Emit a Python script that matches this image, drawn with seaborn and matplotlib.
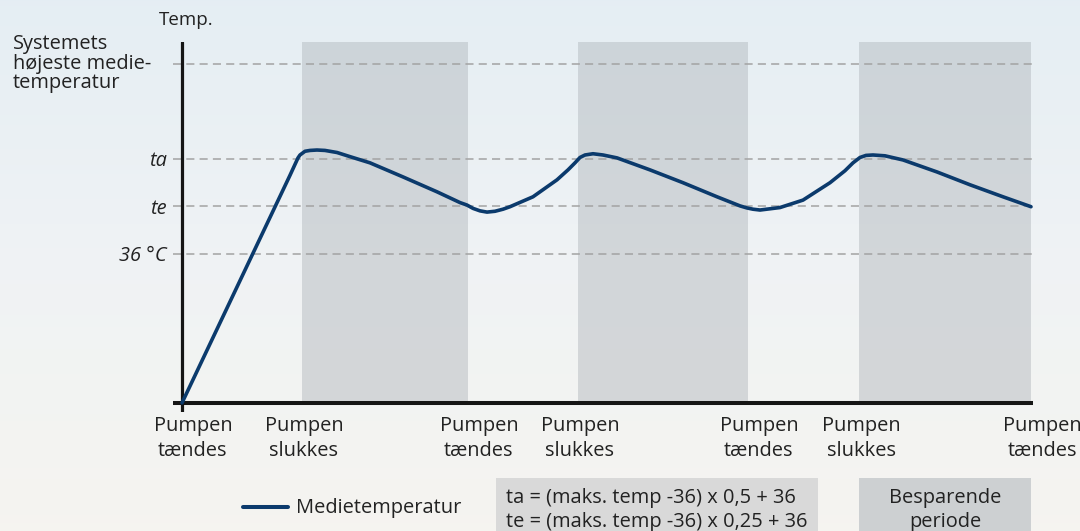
import numpy as np
import matplotlib
matplotlib.use("Agg")
import matplotlib.pyplot as plt
import matplotlib.transforms as mtransforms
from matplotlib.lines import Line2D
from matplotlib.patches import Rectangle
import seaborn as sns

# ---------------- data ----------------
max_temp = 82.0
ta = (max_temp - 36) * 0.5 + 36
te = (max_temp - 36) * 0.25 + 36
base_temp = 36.0

# pump events (time units)
event_times = [0, 12.0, 28.6, 39.6, 56.6, 67.7, 84.9]
event_labels = ["Pumpen\ntændes", "Pumpen\nslukkes", "Pumpen\ntændes", "Pumpen\nslukkes",
                "Pumpen\ntændes", "Pumpen\nslukkes", "Pumpen\ntændes"]
# saving periods (pump off)
saving_start = [12.0, 39.6, 67.7]
saving_end = [28.6, 56.6, 84.9]

# medium temperature curve
curve_time = [0, 10.8, 11.6, 11.8, 12.3, 12.8, 13.5, 14.3, 15.5, 16.8, 18.8, 22.1, 25.5,
              27.8, 28.5, 29.1, 29.8, 30.5, 31.3, 32.1, 32.8, 35.1, 37.5, 38.6, 39.3,
              39.8, 40.3, 41.1, 42.1, 43.5, 46.8, 50.1, 53.5, 55.8, 56.5, 57.1, 57.8,
              58.8, 59.8, 62.1, 64.8, 66.3, 67.1, 67.8, 68.4, 69.1, 70.3, 72.1, 75.5,
              78.8, 82.1, 84.9]
curve_temp = [0, 55.0, 59.2, 59.9, 60.8, 61.0, 61.1, 61.0, 60.5, 59.5, 58.0, 54.6, 51.0,
              48.4, 47.8, 47.0, 46.4, 46.1, 46.3, 46.8, 47.4, 49.8, 53.9, 56.3, 58.0,
              59.3, 59.9, 60.2, 59.9, 59.2, 56.3, 53.2, 49.8, 47.6, 47.1, 46.8, 46.6,
              46.9, 47.2, 49.0, 53.2, 56.1, 58.0, 59.3, 59.8, 59.9, 59.7, 58.7, 55.8,
              52.7, 49.8, 47.4]

ytick_values = [base_temp, te, ta]
ytick_labels = ["36 °C", "te", "ta"]
max_label = "Systemets\nhøjeste medie-\ntemperatur"
legend_line_label = "Medietemperatur"
formula_text = "ta = (maks. temp -36) x 0,5 + 36\nte = (maks. temp -36) x 0,25 + 36"
saving_label = "Besparende\nperiode"

# ---------------- style ----------------
sns.set_theme(style="white")
plt.rcParams["font.family"] = ["Open Sans", "DejaVu Sans"]
TXT = "#222222"
NAVY = "#0b3a6c"
FS = 14.4

W, H = 1080, 531
fig = plt.figure(figsize=(W / 100, H / 100), dpi=100)

# background gradient (sky fading to pale)
bg = fig.add_axes([0, 0, 1, 1], zorder=-10)
yy = np.linspace(0, 1, 256)[:, None]
top = np.array([0.898, 0.933, 0.955])
mid = np.array([0.940, 0.952, 0.958])
bot = np.array([0.962, 0.957, 0.942])
grad = np.where(yy < 0.5, top + (mid - top) * (yy / 0.5), mid + (bot - mid) * ((yy - 0.5) / 0.5))
img = np.repeat(grad[:, None, :], 4, axis=1).reshape(256, 4, 3)
bg.imshow(img, aspect="auto", extent=[0, 1, 0, 1], origin="upper")
bg.set_xlim(0, 1); bg.set_ylim(0, 1)
bg.axis("off")

ax = fig.add_axes([173 / W, 1 - 412 / H, 860 / W, 370 / H])
ax.patch.set_alpha(0)
for s in ax.spines.values():
    s.set_visible(False)
ylo, yhi = -2.2, 87.2
ax.set_xlim(-0.9, 85.1)
ax.set_ylim(ylo, yhi)

# saving-period bands (from the time axis up)
band_bottom = (0 - ylo) / (yhi - ylo)
for s0, s1 in zip(saving_start, saving_end):
    ax.axvspan(s0, s1, ymin=band_bottom, ymax=1, color="#aab0b5", alpha=0.42, lw=0, zorder=0)

# dashed reference lines
for yv in [max_temp, ta, te, base_temp]:
    ax.axhline(yv, color="#a3a3a3", lw=1.1, dashes=(5.3, 3.4), zorder=1)

# axes lines
ax.axhline(0, color="#151515", lw=2.9, zorder=3)
ax.axvline(0, color="#151515", lw=2.3, zorder=3)

# curve
sns.lineplot(x=curve_time, y=curve_temp, ax=ax, color=NAVY, lw=2.6, zorder=4,
             sort=False, estimator=None)
for ln in ax.lines[-1:]:
    ln.set_solid_joinstyle("round")
    ln.set_solid_capstyle("round")

# y ticks
ax.set_yticks(ytick_values)
ax.set_yticklabels(ytick_labels, fontsize=FS, style="italic", color=TXT)
ax.tick_params(axis="y", length=0, pad=4.3)
ax.set_xticks([])
ax.set_xlabel(""); ax.set_ylabel("")

# max label
tr_max = mtransforms.blended_transform_factory(fig.transFigure, ax.transData)
ax.text(13 / W, max_temp, max_label, transform=tr_max, ha="left", va="center",
        fontsize=FS, color=TXT, linespacing=0.98)

# Temp. label
ax.text(0.015, 1.06, "Temp.", transform=ax.transAxes, ha="center", va="center",
        fontsize=13.5, color=TXT)

# x labels
tr_x = mtransforms.blended_transform_factory(ax.transData, ax.transAxes)
for t, lab in zip(event_times, event_labels):
    off = 11 if "tændes" in lab else 2
    tr = tr_x + mtransforms.ScaledTranslation(off / 100, -4 / 100, fig.dpi_scale_trans)
    ax.text(t, 0, lab, transform=tr, ha="center", va="top", fontsize=FS,
            color=TXT, linespacing=1.35)

# legend: line sample
fig.add_artist(Line2D([243 / W, 288 / W], [1 - 507 / H, 1 - 507 / H],
                      color=NAVY, lw=2.9, transform=fig.transFigure))
fig.text(296 / W, 1 - 508 / H, legend_line_label, ha="left", va="center",
         fontsize=FS, color=TXT)

# formula box
fig.add_artist(Rectangle((496 / W, 0), (818 - 496) / W, (531 - 478) / H,
                         transform=fig.transFigure, color="#d9d9d9", lw=0, zorder=1))
fig.text(506 / W, 1 - 510 / H, formula_text, ha="left", va="center",
         fontsize=FS, color=TXT, linespacing=1.3, zorder=2)

# saving box
fig.add_artist(Rectangle((859 / W, 0), (1031 - 859) / W, (531 - 478) / H,
                         transform=fig.transFigure, color="#cdd0d2", lw=0, zorder=1))
fig.text(945 / W, 1 - 510 / H, saving_label, ha="center", va="center",
         fontsize=FS, color=TXT, linespacing=1.3, zorder=2)

fig.savefig("out.png", dpi=100)
